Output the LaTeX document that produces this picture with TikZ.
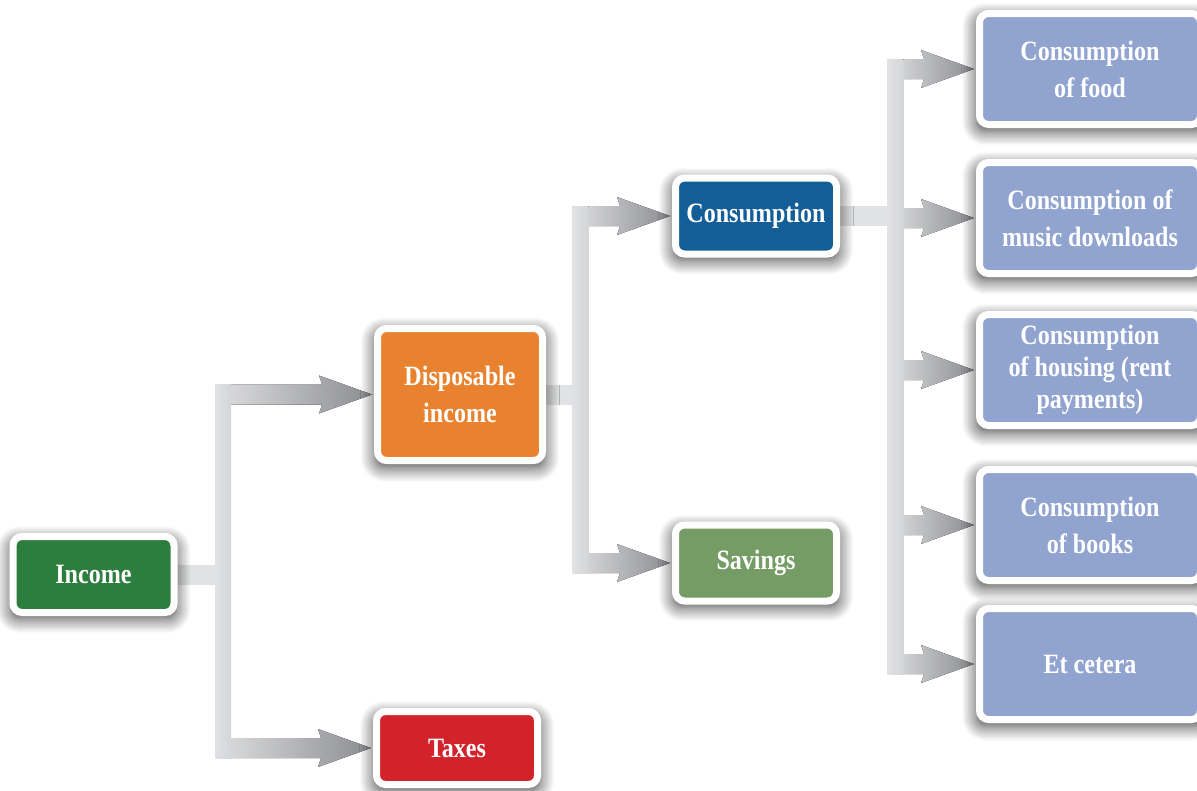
\documentclass[tikz,border=0pt]{standalone}
\usepackage{fontspec}
\setmainfont{Liberation Serif}[FakeStretch=0.86]
\definecolor{IncGreen}{RGB}{45,126,62}
\definecolor{DispOrange}{RGB}{232,130,46}
\definecolor{TaxRed}{RGB}{210,35,42}
\definecolor{ConsBlue}{RGB}{20,94,152}
\definecolor{SavGreen}{RGB}{116,156,100}
\definecolor{ItemBlue}{RGB}{144,164,207}
\definecolor{BarGray}{RGB}{212,213,215}
\definecolor{HeadGray}{RGB}{140,141,145}
\usetikzlibrary{positioning, calc, backgrounds, shadows.blur}
% band from a junction bar to the west side of a box
\newcommand{\flowto}[2]{%
\fill[left color=BarGray!75!white, right color=HeadGray]
 ($(#1 |- #2.west)+(-8,-10)$) -- ($(#2.west)+(-52,-10)$) -- ($(#2.west)+(-55,-19)$)
 -- ($(#2.west)+(-2,0)$) -- ($(#2.west)+(-55,19)$) -- ($(#2.west)+(-52,10)$)
 -- ($(#1 |- #2.west)+(-8,10)$) -- cycle;}

\begin{document}
\begin{tikzpicture}[x=1pt, y=-1pt,
  flowbox/.style={rectangle, rounded corners=9pt, draw=white, line width=7pt, outer sep=3.5pt,
    text=white, align=center, inner sep=2pt, font=\bfseries\fontsize{28}{37}\selectfont,
    minimum width=161pt, minimum height=76pt,
    blur shadow={shadow xshift=0pt, shadow yshift=-5pt, shadow blur radius=14pt,
      shadow scale=1.03, shadow blur steps=12, shadow opacity=75}},
  itembox/.style={flowbox, fill=ItemBlue, minimum width=221pt, minimum height=111pt},
  stub/.style={fill=BarGray!70!white},
  flowbar/.style={left color=BarGray!70!white, right color=BarGray}]
\useasboundingbox (0,0) rectangle (1197,790);
%boxes
\node[flowbox, fill=IncGreen] (inc) at (93.5,574.5) {Income};
\node[flowbox, fill=DispOrange, minimum width=165pt, minimum height=132pt] (disp) at (460,394.5) {Disposable\\income};
\node[flowbox, fill=TaxRed, minimum height=73pt] (tax) at (457,748) {Taxes};
\node[flowbox, fill=ConsBlue] (cons) at (756,216) {Consumption};
\node[flowbox, fill=SavGreen] (sav) at (756,563) {Savings};
\node[itembox] (food) at (1090,69) {Consumption\\of food};
\node[itembox] (music) at (1090,218) {Consumption of\\music downloads};
\node[itembox, font=\bfseries\fontsize{28}{32}\selectfont] (house) at (1090,370) {Consumption\\of housing (rent\\payments)};
\node[itembox] (books) at (1090,525) {Consumption\\of books};
\node[itembox] (etc) at (1090,664) {Et cetera};
%junctions
\coordinate (jA) at (223,0);
\coordinate (jB) at (580.5,0);
\coordinate (jC) at (895.5,0);
\begin{pgfonlayer}{background}
%stubs
\fill[stub] (inc.center) ++(0,-10) rectangle ($(jA |- inc.center)+(0,10)$);
\fill[stub] (disp.center) ++(0,-10) rectangle ($(jB |- disp.center)+(0,10)$);
\fill[stub] (cons.center) ++(0,-10) rectangle ($(jC |- cons.center)+(0,10)$);
%arrows
\flowto{jA}{disp} \flowto{jA}{tax}
\flowto{jB}{cons} \flowto{jB}{sav}
\foreach \n in {food,music,house,books,etc} {\flowto{jC}{\n}}
%bars
\fill[flowbar] ($(jA |- disp.west)+(-8,-10)$) rectangle ($(jA |- tax.west)+(8,10)$);
\fill[flowbar] ($(jB |- cons.west)+(-8,-10)$) rectangle ($(jB |- sav.west)+(8,10)$);
\fill[flowbar] ($(jC |- food.west)+(-8,-10)$) rectangle ($(jC |- etc.west)+(8,10)$);
\end{pgfonlayer}
\end{tikzpicture}
\end{document}
